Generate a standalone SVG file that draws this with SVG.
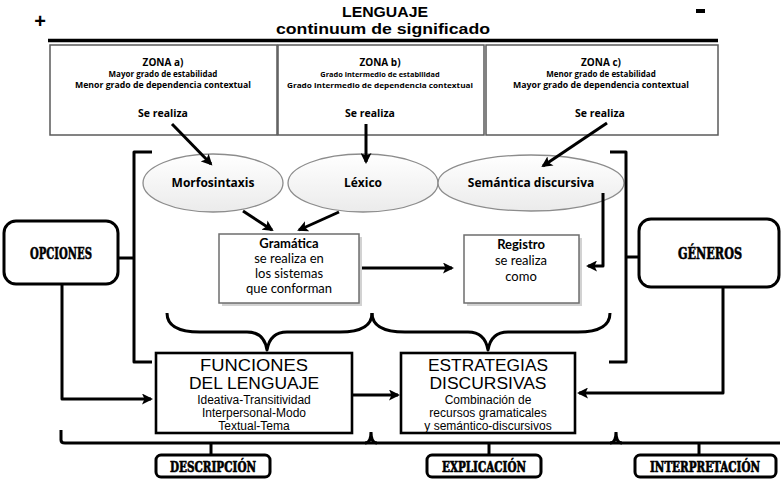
<svg xmlns="http://www.w3.org/2000/svg" width="782" height="479" viewBox="0 0 782 479">
<defs>
<marker id="ah" markerUnits="userSpaceOnUse" markerWidth="12" markerHeight="11" refX="9" refY="5.5" orient="auto"><path d="M0,0 L11,5.5 L0,11 L2.5,5.5 z" fill="#000"/></marker>
<linearGradient id="eg" x1="0" y1="0" x2="0" y2="1"><stop offset="0" stop-color="#ffffff"/><stop offset="1" stop-color="#ebebeb"/></linearGradient>
</defs>
<style>
.hd{font-family:"Liberation Sans",Arial,sans-serif;font-weight:bold;text-anchor:middle;fill:#000}
.zb{fill:#fff;stroke:#5a5a5a;stroke-width:1.5}
.zt{font-family:"Open Sans","Liberation Sans",sans-serif;font-weight:bold;text-anchor:middle;fill:#000}
.el{fill:url(#eg);stroke:#8c8c8c;stroke-width:1.3}
.gb{fill:#fff;stroke:#6e6e6e;stroke-width:1.5}
.sh{fill:#d2d2d2}
.gt{font-family:Lato,"Open Sans",sans-serif;text-anchor:middle;fill:#000;font-size:13px}
.bb{fill:#fff;stroke:#000;stroke-width:2.6}
.ar{font-family:"Liberation Sans",Arial,sans-serif;text-anchor:middle;fill:#000}
.rb{fill:#fff;stroke:#000;stroke-width:3}
.hv{font-family:"DejaVu Serif","Liberation Serif",serif;font-weight:bold;text-anchor:middle;font-stretch:condensed;fill:#000;stroke:#000;stroke-width:0.6}
.ln{fill:none;stroke:#000;stroke-width:3;stroke-linejoin:round}
.ma{marker-end:url(#ah)}
</style>
<rect width="782" height="479" fill="#fff"/>

<g id="header">
<text class="hd" x="40" y="28" font-size="20">+</text>
<rect x="696" y="9" width="9" height="4" fill="#000"/>
<text class="hd" x="385" y="17" font-size="14" textLength="86" lengthAdjust="spacingAndGlyphs">LENGUAJE</text>
<text class="hd" x="383" y="34" font-size="14" textLength="214" lengthAdjust="spacingAndGlyphs">continuum de significado</text>
<line x1="48" y1="40.5" x2="718" y2="40.5" stroke="#000" stroke-width="3.5"/>
</g>

<g id="zona-a">
<rect class="zb" x="50" y="45" width="227" height="90"/>
<text class="zt" x="163" y="66" font-size="10">ZONA a)</text>
<text class="zt" x="163" y="77" font-size="8">Mayor grado de estabilidad</text>
<text class="zt" x="163" y="88" font-size="8" textLength="176" lengthAdjust="spacingAndGlyphs">Menor grado de dependencia contextual</text>
<text class="zt" x="163" y="117" font-size="10.5">Se realiza</text>
</g>
<g id="zona-b">
<rect class="zb" x="278" y="45" width="206" height="90"/>
<text class="zt" x="380" y="66" font-size="10">ZONA b)</text>
<text class="zt" x="380" y="77" font-size="7.4">Grado intermedio de estabilidad</text>
<text class="zt" x="380" y="88" font-size="7.4" textLength="186" lengthAdjust="spacingAndGlyphs">Grado intermedio de dependencia contextual</text>
<text class="zt" x="370" y="117" font-size="10.5">Se realiza</text>
</g>
<g id="zona-c">
<rect class="zb" x="486" y="45" width="232" height="90"/>
<text class="zt" x="601" y="66" font-size="10">ZONA c)</text>
<text class="zt" x="601" y="77" font-size="8">Menor grado de estabilidad</text>
<text class="zt" x="601" y="88" font-size="8" textLength="176" lengthAdjust="spacingAndGlyphs">Mayor grado de dependencia contextual</text>
<text class="zt" x="600" y="117" font-size="10.5">Se realiza</text>
</g>

<g id="morfosintaxis">
<ellipse class="el" cx="213" cy="183" rx="70" ry="29"/>
<text class="zt" x="213" y="187" font-size="12">Morfosintaxis</text>
</g>
<g id="lexico">
<ellipse class="el" cx="363" cy="183" rx="75" ry="29"/>
<text class="zt" x="363" y="187" font-size="12">Léxico</text>
</g>
<g id="semantica">
<ellipse class="el" cx="531" cy="183" rx="93" ry="28"/>
<text class="zt" x="531" y="187" font-size="12">Semántica discursiva</text>
</g>

<g id="gramatica">
<rect class="sh" x="222" y="237" width="140" height="69"/>
<rect class="gb" x="219" y="234" width="140" height="69"/>
<text class="gt" x="289" y="248" font-weight="bold">Gramática</text>
<text class="gt" x="289" y="263">se realiza en</text>
<text class="gt" x="289" y="278">los sistemas</text>
<text class="gt" x="289" y="293">que conforman</text>
</g>
<g id="registro">
<rect class="sh" x="467" y="238" width="115" height="68"/>
<rect class="gb" x="464" y="235" width="115" height="68"/>
<text class="gt" x="521" y="249" font-weight="bold">Registro</text>
<text class="gt" x="521" y="265">se realiza</text>
<text class="gt" x="521" y="281">como</text>
</g>

<g id="opciones">
<rect class="rb" x="4" y="221" width="114" height="63" rx="12"/>
<text class="hv" x="61" y="259" font-size="17" textLength="62" lengthAdjust="spacingAndGlyphs">OPCIONES</text>
</g>
<g id="generos">
<rect class="rb" x="639" y="219" width="140" height="68" rx="12"/>
<text class="hv" x="710" y="259" font-size="17" textLength="64" lengthAdjust="spacingAndGlyphs">GÉNEROS</text>
</g>

<g id="funciones">
<rect class="bb" x="156" y="353" width="196" height="80"/>
<text class="ar" x="254" y="371" font-size="16" textLength="108" lengthAdjust="spacingAndGlyphs">FUNCIONES</text>
<text class="ar" x="254" y="389" font-size="16" textLength="130" lengthAdjust="spacingAndGlyphs">DEL LENGUAJE</text>
<text class="ar" x="254" y="404" font-size="12">Ideativa-Transitividad</text>
<text class="ar" x="254" y="417" font-size="12">Interpersonal-Modo</text>
<text class="ar" x="254" y="430" font-size="12">Textual-Tema</text>
</g>
<g id="estrategias">
<rect class="bb" x="401" y="353" width="174" height="80"/>
<text class="ar" x="488" y="371" font-size="16" textLength="120" lengthAdjust="spacingAndGlyphs">ESTRATEGIAS</text>
<text class="ar" x="488" y="389" font-size="16" textLength="117" lengthAdjust="spacingAndGlyphs">DISCURSIVAS</text>
<text class="ar" x="488" y="404" font-size="12">Combinación de</text>
<text class="ar" x="488" y="417" font-size="12">recursos gramaticales</text>
<text class="ar" x="488" y="430" font-size="12">y semántico-discursivos</text>
</g>

<g id="descripcion">
<rect class="rb" x="156" y="455" width="114" height="22" rx="5"/>
<text class="hv" x="213" y="471.5" font-size="14" textLength="86" lengthAdjust="spacingAndGlyphs">DESCRIPCIÓN</text>
</g>
<g id="explicacion">
<rect class="rb" x="427" y="455" width="114" height="22" rx="5"/>
<text class="hv" x="484" y="471.5" font-size="14" textLength="84" lengthAdjust="spacingAndGlyphs">EXPLICACIÓN</text>
</g>
<g id="interpretacion">
<rect class="rb" x="635" y="455" width="141" height="22" rx="5"/>
<text class="hv" x="705" y="471.5" font-size="14" textLength="110" lengthAdjust="spacingAndGlyphs">INTERPRETACIÓN</text>
</g>

<g id="connectors">
<path class="ln ma" d="M172,124 L211,164"/>
<path class="ln ma" d="M366,124 L366,162"/>
<path class="ln ma" d="M607,123 L543,166"/>
<path class="ln ma" d="M243,211 L272,230"/>
<path class="ln ma" d="M339,212 L299,230"/>
<path class="ln ma" d="M362,268 L452,268"/>
<path class="ln ma" d="M603,193 V266 H588"/>
<path class="ln ma" d="M62,284 V399 H151"/>
<path class="ln ma" d="M352,395 H398"/>
<path class="ln ma" d="M723,288 V393 H579"/>
<path class="ln" d="M152,152 H134 V362 H152"/>
<path class="ln" d="M118,258 H134"/>
<path class="ln" d="M610,152 H626 V362 H609"/>
<path class="ln" d="M626,257 H639"/>
<path class="ln" d="M167,313 Q167,332 200,332 L247,332 Q264,332 267,350 Q270,332 287,332 L340,332 Q372,332 372,313"/>
<path class="ln" d="M372,313 Q372,332 405,332 L468,332 Q485,332 488,350 Q491,332 508,332 L578,332 Q610,332 610,313"/>
<path class="ln" d="M61,430 V440 Q61,443 65,443 H780"/>
<path class="ln" d="M371,432 Q371,443 365,443 M371,432 Q371,443 377,443"/>
<path class="ln" d="M616,432 Q616,443 610,443 M616,432 Q616,443 622,443"/>
<path class="ln" d="M211,443 V455"/>
<path class="ln" d="M489,443 V455"/>
<path class="ln" d="M699,443 V455"/>
</g>
</svg>
